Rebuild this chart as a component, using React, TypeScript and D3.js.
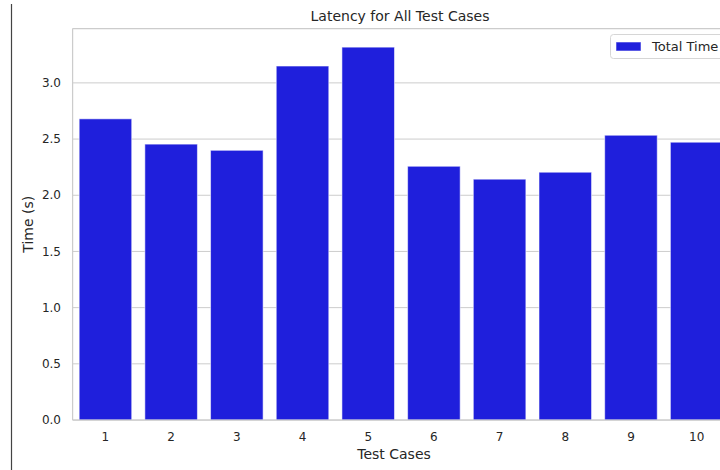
import React from 'react';
import * as d3 from 'd3';

const testCases = ['1', '2', '3', '4', '5', '6', '7', '8', '9', '10'];
const totalTime = [2.68, 2.455, 2.40, 3.15, 3.318, 2.258, 2.143, 2.205, 2.534, 2.472];
const yTicks = [0, 0.5, 1.0, 1.5, 2.0, 2.5, 3.0];

const W = 720;
const H = 470;
const left = 72.6;
const right = 729.5;
const top = 28.5;
const bottom = 420;
const font = '"DejaVu Sans", sans-serif';
const textColor = '#262626';

const App = () => {
  const x = d3.scaleBand<string>()
    .domain(testCases)
    .range([left, right])
    .paddingInner(0.2)
    .paddingOuter(0.1);

  const yMax = (d3.max(totalTime) ?? 0) * 1.05;
  const y = d3.scaleLinear().domain([0, yMax]).range([bottom, top]);

  return (
    <svg
      width={W}
      height={H}
      style={{ position: 'absolute', left: 0, top: 0, background: '#fff' }}
    >
      <line x1={11.5} x2={11.5} y1={4} y2={H} stroke="#444" strokeWidth={1.2} />

      {yTicks.map(t => (
        <g key={t}>
          <line x1={left} x2={right} y1={y(t)} y2={y(t)} stroke="#cccccc" strokeWidth={1} />
          <text
            x={61}
            y={y(t)}
            dy="0.35em"
            textAnchor="end"
            fontFamily={font}
            fontSize={12}
            fill={textColor}
          >
            {t.toFixed(1)}
          </text>
        </g>
      ))}

      {testCases.map((c, i) => (
        <rect
          key={c}
          x={x(c)}
          y={y(totalTime[i])}
          width={x.bandwidth()}
          height={bottom - y(totalTime[i])}
          fill="#1f1fdc"
          stroke="rgba(255,255,255,0.55)"
          strokeWidth={1}
        />
      ))}

      <line x1={left} x2={left} y1={top} y2={bottom} stroke="#cccccc" strokeWidth={1.25} />
      <line x1={left} x2={right} y1={bottom} y2={bottom} stroke="#cccccc" strokeWidth={1.25} />
      <line x1={left} x2={right} y1={top} y2={top} stroke="#cccccc" strokeWidth={1.25} />

      {testCases.map(c => (
        <text
          key={c}
          x={(x(c) ?? 0) + x.bandwidth() / 2}
          y={437}
          dy="0.35em"
          textAnchor="middle"
          fontFamily={font}
          fontSize={12}
          fill={textColor}
        >
          {c}
        </text>
      ))}

      <text x={(left + right) / 2 - 7} y={454} dy="0.35em" textAnchor="middle" fontFamily={font} fontSize={14} fill={textColor}>
        Test Cases
      </text>
      <text
        transform={`translate(28, ${(top + bottom) / 2}) rotate(-90)`}
        dy="0.35em"
        textAnchor="middle"
        fontFamily={font}
        fontSize={14}
        fill={textColor}
      >
        Time (s)
      </text>
      <text x={400} y={16} dy="0.35em" textAnchor="middle" fontFamily={font} fontSize={14} fill={textColor}>
        Latency for All Test Cases
      </text>

      <g>
        <rect x={610.5} y={34.5} width={120} height={24} rx={3} fill="#fff" stroke="#d6d6d6" strokeWidth={1} />
        <rect x={616} y={42} width={25} height={9} fill="#1f1fdc" stroke="rgba(255,255,255,0.55)" />
        <text x={652} y={46.5} dy="0.35em" fontFamily={font} fontSize={13} fill={textColor}>
          Total Time
        </text>
      </g>
    </svg>
  );
};

export default App;
